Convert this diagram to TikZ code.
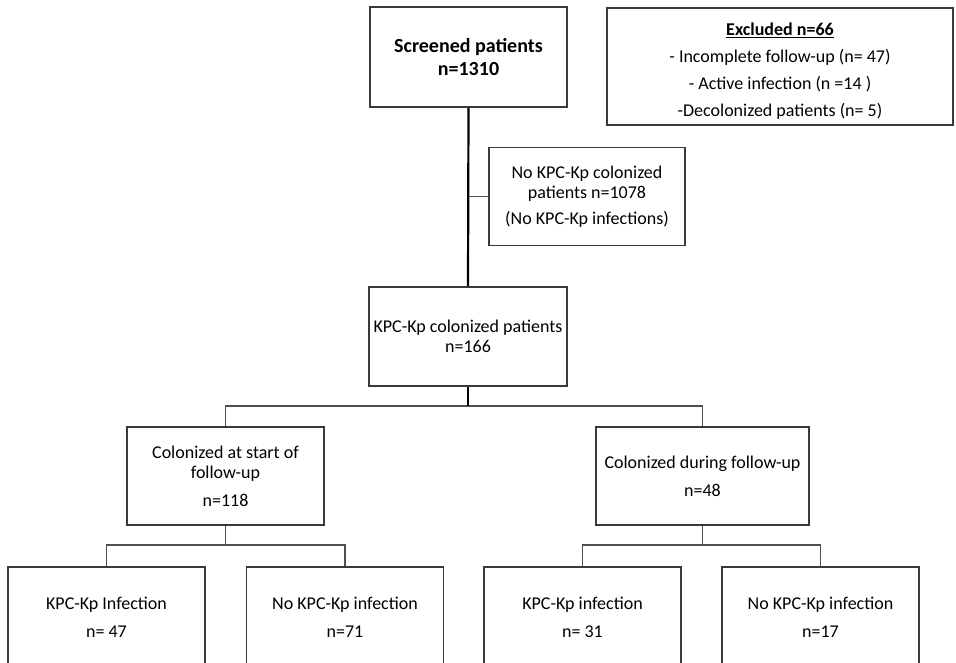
\documentclass[tikz,border=0pt]{standalone}
\usepackage{fontspec}
\setmainfont{Carlito}
\usepackage{xcolor}
\definecolor{boxc}{HTML}{3A3A3A}
\definecolor{linkc}{HTML}{505050}
\usepackage{tikz}
\usetikzlibrary{positioning,calc}
\tikzset{
  box/.style={draw=boxc,line width=1.3pt,fill=white,align=center,inner sep=2pt,
    font=\fontsize{18}{20}\selectfont},
  lk/.style={draw=linkc,line width=1.2pt},
  trunk/.style={draw=black,line width=2.2pt},
}

\begin{document}
\begin{tikzpicture}[x=1pt,y=-1pt,
  top/.style={box,font=\bfseries\fontsize{20}{23}\selectfont},
  leaf/.style={box,minimum width=197pt,minimum height=100pt}]
  \useasboundingbox (0,0) rectangle (956,663);
  \clip (0,0) rectangle (956,663);
  \node[top,minimum width=197pt,minimum height=100pt] (scr) at (468.5,57) {Screened patients\\n=1310};
  \node[box,minimum width=346pt,minimum height=117pt] (exc) at (780,66.5)
    {\rule{0pt}{22pt}\underline{\textbf{Excluded n=66}}\\[7pt]- Incomplete follow-up (n= 47)\\[7pt]
     - Active infection (n =14 )\\[7pt]-Decolonized patients (n= 5)};
  \node[box,minimum width=196pt,minimum height=98pt] (nokpc) at (587,196.5)
    {No KPC-Kp colonized\\patients n=1078\\[6pt](No KPC-Kp infections)};
  \node[box,minimum width=198pt,minimum height=99pt] (col) at (468,336.5) {KPC-Kp colonized patients\\n=166};
  \node[box,minimum width=197pt,minimum height=98pt] (cst) at (225.5,476)
    {Colonized at start of\\follow-up\\[8pt]n=118};
  \node[box,minimum width=213pt,minimum height=98pt] (cdu) at (702.5,476)
    {Colonized during follow-up\\[8pt]n=48};
  \node[leaf] (inf1) at (106.5,617) {KPC-Kp Infection\\[8pt]n= 47};
  \node[leaf] (noinf1) at (345,617) {No KPC-Kp infection\\[8pt]n=71};
  \node[leaf] (inf2) at (582.5,617) {KPC-Kp infection\\[8pt]n= 31};
  \node[leaf] (noinf2) at (820.5,617) {No KPC-Kp infection\\[8pt]n=17};
  % split points
  \coordinate (s0) at (468,406);
  \coordinate (s1) at (225.5,545);
  \coordinate (s2) at (702.5,545);
  \draw[trunk] (scr.south) -- (col.north);
  \draw[lk] (scr.south |- nokpc.west) -- (nokpc.west);
  \draw[lk] (cst.north) |- (s0) -| (cdu.north);
  \draw[trunk] (col.south) -- (s0);
  \draw[lk] (cst.south) -- (s1);
  \draw[lk] (cdu.south) -- (s2);
  \draw[lk] (inf1.north) |- (s1) -| (noinf1.north);
  \draw[lk] (inf2.north) |- (s2) -| (noinf2.north);
\end{tikzpicture}
\end{document}
